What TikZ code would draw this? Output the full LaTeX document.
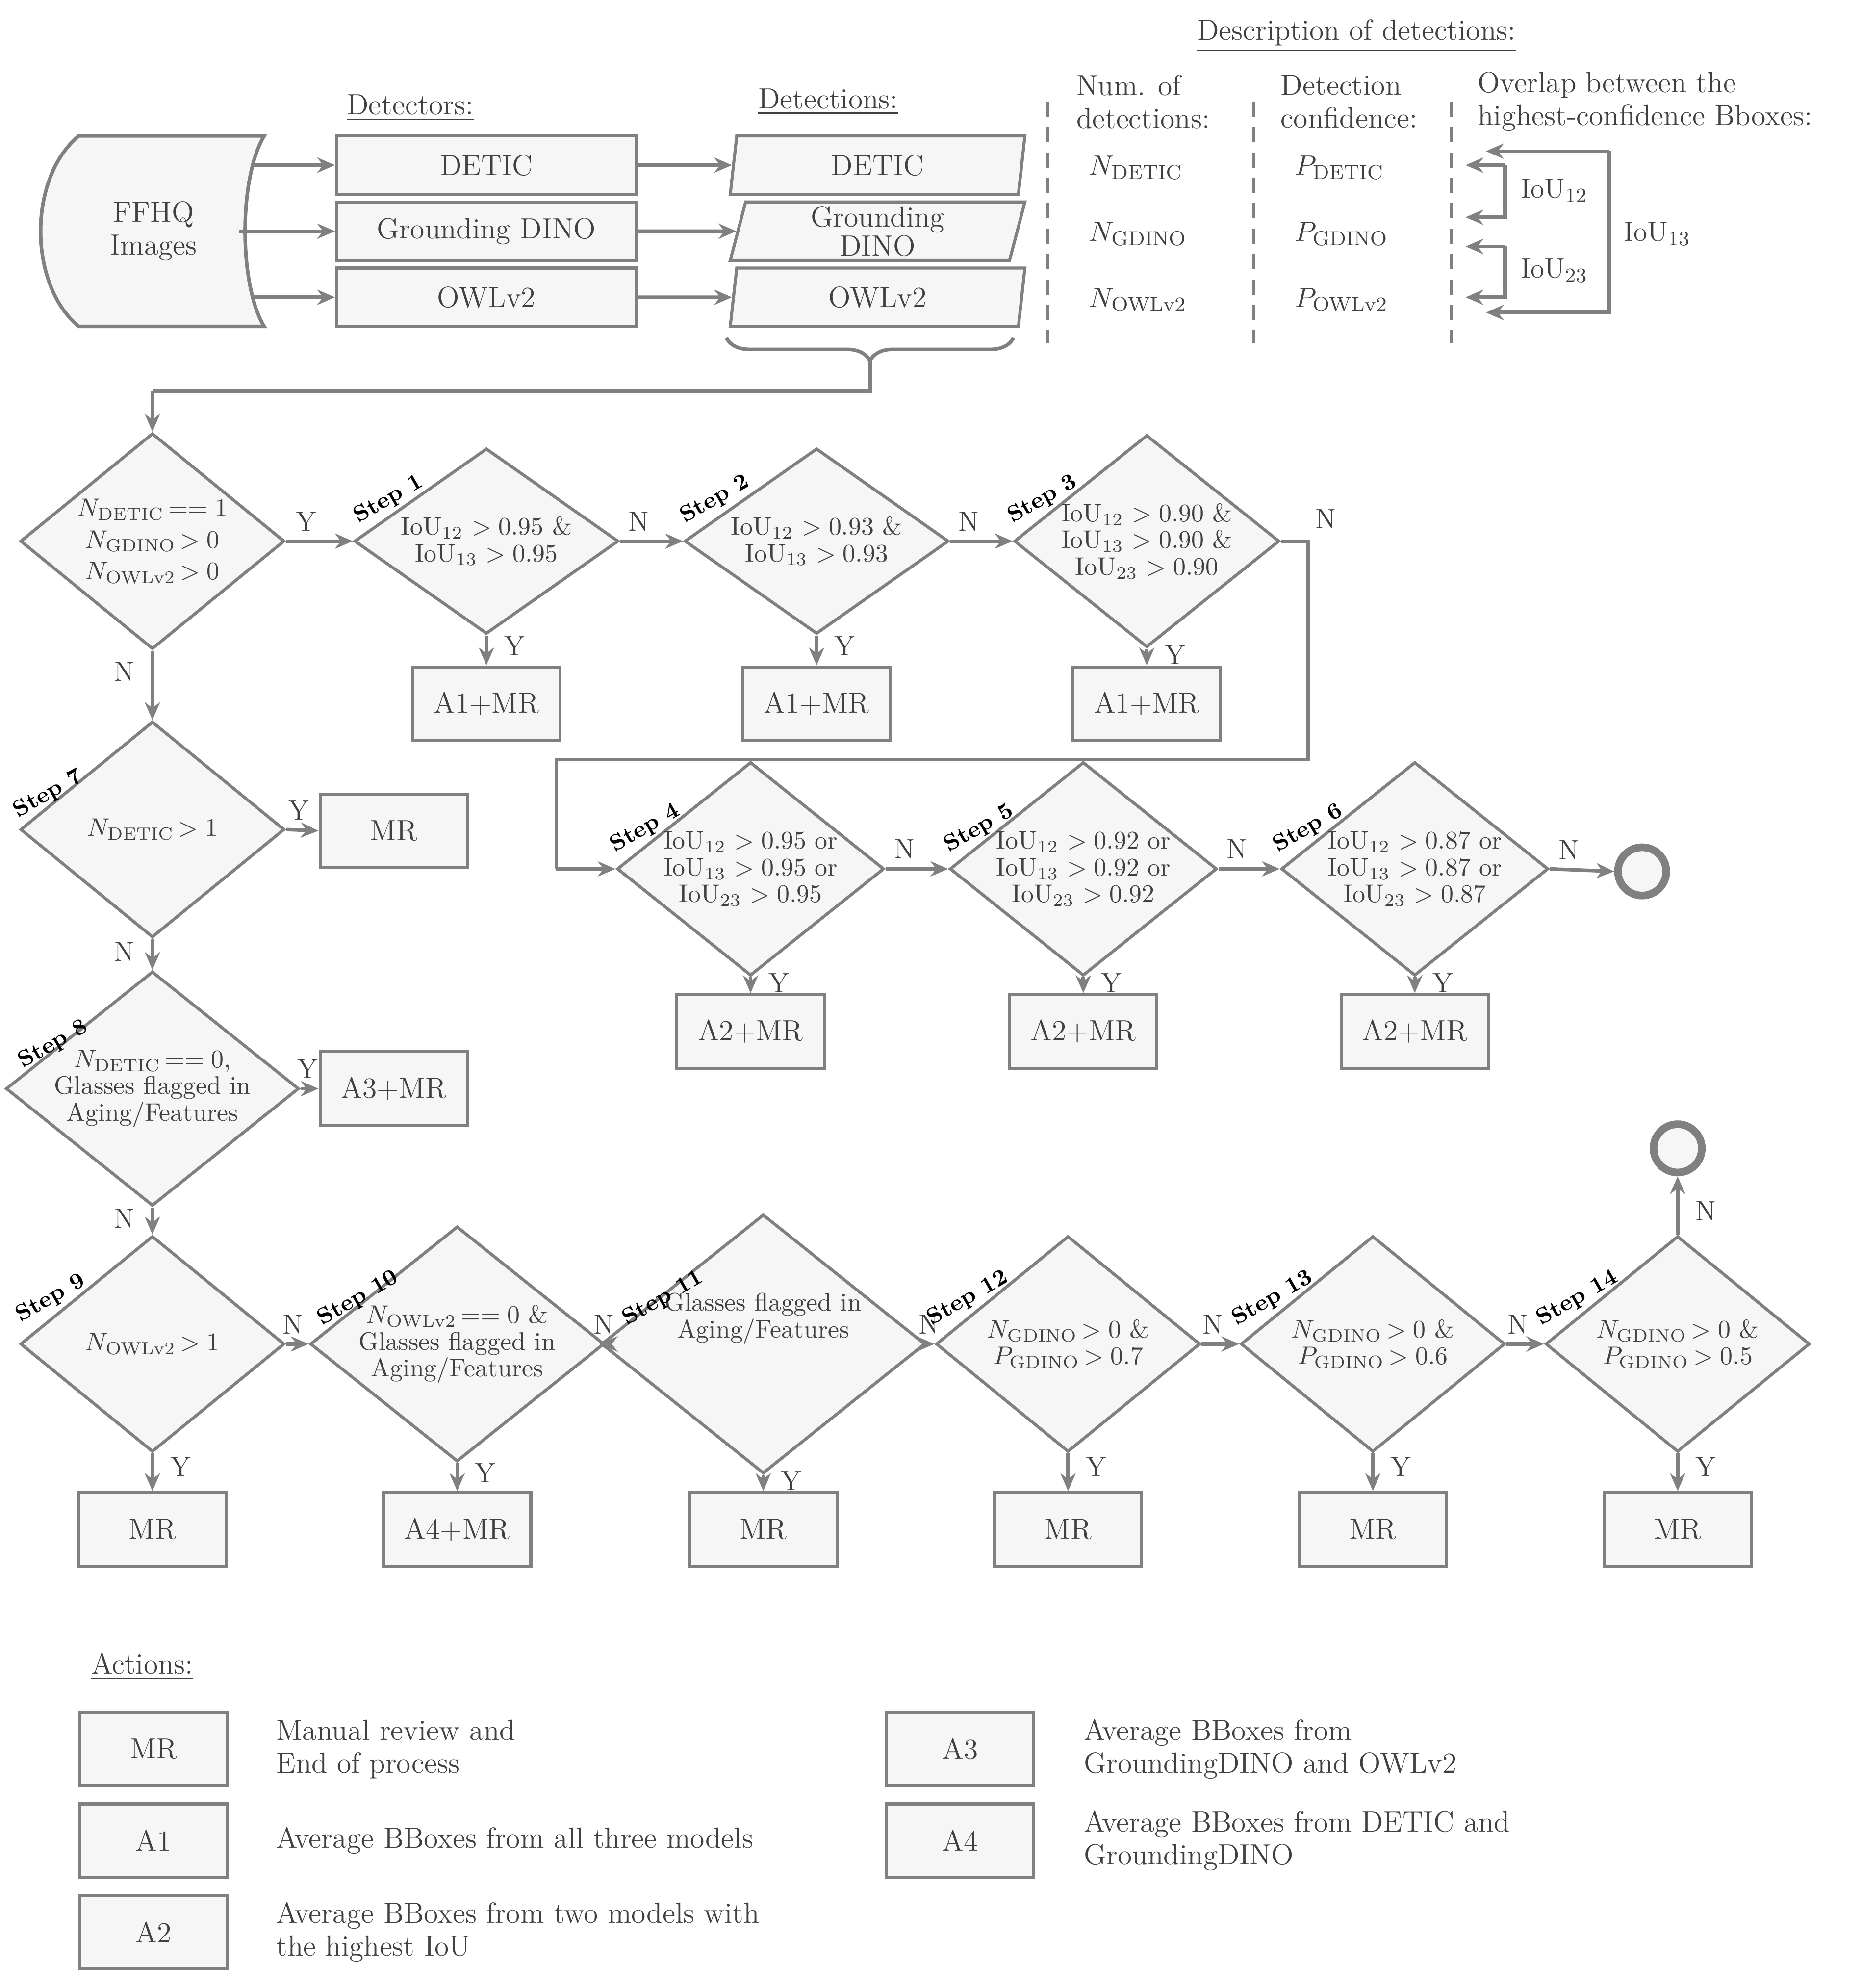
\documentclass[tikz,border=0pt]{standalone}
\usepackage{amsmath}
\usetikzlibrary{shapes.geometric,arrows.meta,decorations.pathreplacing,positioning}
\definecolor{lin}{RGB}{128,128,128}
\definecolor{bg}{RGB}{246,246,246}
\definecolor{txt}{RGB}{64,64,64}
\newcommand{\Nn}[1]{$N_{\mathrm{#1}}$}
\newcommand{\Pp}[1]{$P_{\mathrm{#1}}$}
\newcommand{\iou}[1]{IoU$_{#1}$}
\tikzset{every picture/.style={line width=0.9pt}}
\tikzset{
  flow/.style={draw=lin,line width=1.4pt,-{Stealth[length=7pt,width=6pt]}},
  line/.style={draw=lin,line width=1.4pt},
  box/.style={draw=lin,fill=bg,line width=1.2pt,minimum width=58pt,minimum height=29pt,inner sep=0pt,font=\fontsize{11.5}{12}\selectfont},
  wbox/.style={box,minimum width=118pt,minimum height=23pt},
  para/.style={trapezium,trapezium stretches body,trapezium left angle=73,trapezium right angle=107,draw=lin,fill=bg,line width=1.2pt,minimum width=116pt,minimum height=23pt,inner sep=0pt,align=center,font=\fontsize{11.5}{8.5}\selectfont},
  dia/.style={diamond,aspect=1.25,draw=lin,fill=bg,line width=1.2pt,inner sep=0pt,minimum width=104pt,minimum height=85pt,align=center,font=\fontsize{10}{10.5}\selectfont},
  sdia/.style={dia,minimum height=71pt},
  steplab/.style={rotate=30,font=\bfseries\fontsize{9}{9}\selectfont,text=black},
  lab/.style={font=\fontsize{11}{12}\selectfont},
  endc/.style={circle,draw=lin,line width=3pt,fill=bg,minimum size=19pt,inner sep=0pt},
}
\begin{document}
\begin{tikzpicture}[x=0.5pt,y=-0.5pt,text=txt,font=\fontsize{11.5}{13}\selectfont]
\useasboundingbox (0,0) rectangle (1466,1565);

% input
\draw[line,fill=bg] (62,107) -- (208,107) .. controls (188,140) and (188,224) .. (208,257) -- (62,257) .. controls (22,224) and (22,140) .. (62,107) -- cycle;
\node (ffhq) at (121,182) [align=center] {FFHQ\\Images};
\coordinate (in1) at (198,130);
\coordinate (in2) at (188,182);
\coordinate (in3) at (198,234);

% detectors
\node at (323,85) {\underline{Detectors:}};
\node[wbox] (det1) at (383,130) {DETIC};
\node[wbox] (det2) at (383,182) {Grounding DINO};
\node[wbox] (det3) at (383,234) {OWLv2};
\node at (652,80) {\underline{Detections:}};
\node[para] (out1) at (691,130) {DETIC};
\node[para] (out2) at (691,182) {Grounding\\DINO};
\node[para] (out3) at (691,234) {OWLv2};
\draw[flow] (in1) -- (det1);
\draw[flow] (in2) -- (det2);
\draw[flow] (in3) -- (det3);
\foreach \i in {1,2,3} \draw[flow] (det\i) -- (out\i);

% description
\node at (1068,28) {\underline{Description of detections:}};
\node[anchor=west,align=left] at (840,80) {Num. of\\detections:};
\node[anchor=west,align=left] at (1001,80) {Detection\\confidence:};
\node[anchor=west,align=left] at (1156,80) {Overlap between the\\highest-confidence Bboxes:};
\foreach \x in {825,987,1143} \draw[lin,line width=1.2pt,dash pattern=on 6pt off 4pt] (\x,80) -- (\x,270);
\node[lab,anchor=west] at (850,132) {\Nn{DETIC}};
\node[lab,anchor=west] at (850,184) {\Nn{GDINO}};
\node[lab,anchor=west] at (850,236) {\Nn{OWLv2}};
\node[lab,anchor=west] at (1012,132) {\Pp{DETIC}};
\node[lab,anchor=west] at (1012,184) {\Pp{GDINO}};
\node[lab,anchor=west] at (1012,236) {\Pp{OWLv2}};
\coordinate (o1) at (1170,119);
\coordinate (o2) at (1154,130);
\coordinate (o3) at (1154,171);
\coordinate (o4) at (1154,194);
\coordinate (o5) at (1154,234);
\coordinate (o6) at (1170,246);
\draw[flow] (1185,130) -- (o2);
\draw[flow] (1185,130) -- (1185,171) -- (o3);
\draw[flow] (1185,194) -- (o4);
\draw[flow] (1185,194) -- (1185,234) -- (o5);
\draw[flow] (1267,119) -- (o1);
\draw[flow] (1267,119) -- (1267,246) -- (o6);
\node[lab,anchor=west] at (1190,150) {\iou{12}};
\node[lab,anchor=west] at (1190,213) {\iou{23}};
\node[lab,anchor=west] at (1271,184) {\iou{13}};

% brace
\draw[line,decorate,decoration={brace,amplitude=9pt}] (798,266) -- (572,266);
\coordinate (br) at (685,284);

% first row
\node[dia] (d0) at (120,426) {\Nn{DETIC}$\,==1$\\[2pt]\Nn{GDINO}$\,>0$\\[2pt]\Nn{OWLv2}$\,>0$};
\node[sdia] (s1) at (383,426) {\iou{12} $>0.95$ \&\\\iou{13} $>0.95$};
\node[sdia] (s2) at (643,426) {\iou{12} $>0.93$ \&\\\iou{13} $>0.93$};
\node[sdia] (s3) at (903,426) {\iou{12} $>0.90$ \&\\\iou{13} $>0.90$ \&\\\iou{23} $>0.90$};
\node[box] (b1) at (383,554) {A1+MR};
\node[box] (b2) at (643,554) {A1+MR};
\node[box] (b3) at (903,554) {A1+MR};
\draw[line] (br) -- (685,308) -- (120,308);
\draw[flow] (120,308) -- (d0.north);
\draw[flow] (d0.east) -- node[lab,above,pos=0.3] {Y} (s1.west);
\draw[flow] (s1.east) -- node[lab,above,pos=0.3] {N} (s2.west);
\draw[flow] (s2.east) -- node[lab,above,pos=0.3] {N} (s3.west);
\foreach \i in {1,2,3} \draw[flow] (s\i.south) -- node[lab,right=3pt,pos=0.35] {Y} (b\i.north);

% second row
\node[sdia] (s4) at (591,684) {\iou{12} $>0.95$ or\\\iou{13} $>0.95$ or\\\iou{23} $>0.95$};
\node[sdia] (s5) at (853,684) {\iou{12} $>0.92$ or\\\iou{13} $>0.92$ or\\\iou{23} $>0.92$};
\node[sdia] (s6) at (1114,684) {\iou{12} $>0.87$ or\\\iou{13} $>0.87$ or\\\iou{23} $>0.87$};
\node[box] (b4) at (591,812) {A2+MR};
\node[box] (b5) at (853,812) {A2+MR};
\node[box] (b6) at (1114,812) {A2+MR};
\node[endc] (end1) at (1293,686) {};
\draw[line] (s3.east) -- node[lab,above right=1pt and 0pt,pos=0.9] {N} (1030,426) -- (1030,598) -- (438,598) -- (438,684);
\draw[flow] (438,684) -- (s4.west);
\draw[flow] (s4.east) -- node[lab,above,pos=0.3] {N} (s5.west);
\draw[flow] (s5.east) -- node[lab,above,pos=0.3] {N} (s6.west);
\draw[flow] (s6.east) -- node[lab,above,pos=0.3] {N} (end1.west);
\foreach \i in {4,5,6} \draw[flow] (s\i.south) -- node[lab,right=3pt,pos=0.35] {Y} (b\i.north);

% left column
\node[dia] (s7) at (120,653) {\Nn{DETIC}$\,>1$};
\node[dia] (s8) at (120,857) {\Nn{DETIC}$\,==0$,\\Glasses flagged in\\Aging/Features};
\node[box] (b7) at (310,654) {MR};
\node[box] (b8) at (310,857) {A3+MR};
\draw[flow] (d0.south) -- node[lab,left=3pt,pos=0.3] {N} (s7.north);
\draw[flow] (s7.south) -- node[lab,left=3pt,pos=0.4] {N} (s8.north);
\draw[flow] (s7.east) -- node[lab,above,pos=0.4] {Y} (b7.west);
\draw[flow] (s8.east) -- node[lab,above,pos=0.4] {Y} (b8.west);

% bottom row
\node[dia] (s9) at (120,1058) {\Nn{OWLv2}$\,>1$};
\node[dia] (s10) at (360,1058) {\Nn{OWLv2}$\,==0$ \&\\Glasses flagged in\\Aging/Features};
\node[dia] (s11) at (601,1058) {Glasses flagged in\\Aging/Features\\[12pt]};
\node[dia] (s12) at (841,1058) {\Nn{GDINO}$\,>0$ \&\\\Pp{GDINO}$\,>0.7$};
\node[dia] (s13) at (1081,1058) {\Nn{GDINO}$\,>0$ \&\\\Pp{GDINO}$\,>0.6$};
\node[dia] (s14) at (1321,1058) {\Nn{GDINO}$\,>0$ \&\\\Pp{GDINO}$\,>0.5$};
\node[box] (b9) at (120,1204) {MR};
\node[box] (b10) at (360,1204) {A4+MR};
\node[box] (b11) at (601,1204) {MR};
\node[box] (b12) at (841,1204) {MR};
\node[box] (b13) at (1081,1204) {MR};
\node[box] (b14) at (1321,1204) {MR};
\node[endc] (end2) at (1321,904) {};
\draw[flow] (s8.south) -- node[lab,left=3pt,pos=0.4] {N} (s9.north);
\foreach \a/\b in {9/10,10/11,11/12,12/13,13/14}
  \draw[flow] (s\a.east) -- node[lab,above,pos=0.3] {N} (s\b.west);
\foreach \i in {9,...,14} \draw[flow] (s\i.south) -- node[lab,right=3pt,pos=0.35] {Y} (b\i.north);
\draw[flow] (s14.north) -- node[lab,right=3pt,pos=0.4] {N} (end2.south);

% step labels
\foreach \n/\x/\y in {1/306/393,2/563/393,3/821/393,4/508/652,5/771/652,6/1030/652,7/38/625,8/42/822,9/40/1022,10/282/1022,11/522/1022,12/762/1022,13/1002/1022,14/1242/1022}
  \node[steplab] at (\x,\y) {Step \n};

% legend
\node at (112,1312) {\underline{Actions:}};
\node[box] (l1) at (121,1377) {MR};
\node[box] (l2) at (121,1449) {A1};
\node[box] (l3) at (121,1521) {A2};
\node[box] (l4) at (756,1377) {A3};
\node[box] (l5) at (756,1449) {A4};
\node[anchor=west,align=left] at (210,1377) {Manual review and\\End of process};
\node[anchor=west,align=left] at (210,1449) {Average BBoxes from all three models};
\node[anchor=west,align=left] at (210,1521) {Average BBoxes from two models with\\the highest IoU};
\node[anchor=west,align=left] at (846,1377) {Average BBoxes from\\GroundingDINO and OWLv2};
\node[anchor=west,align=left] at (846,1449) {Average BBoxes from DETIC and\\GroundingDINO};
\end{tikzpicture}
\end{document}
